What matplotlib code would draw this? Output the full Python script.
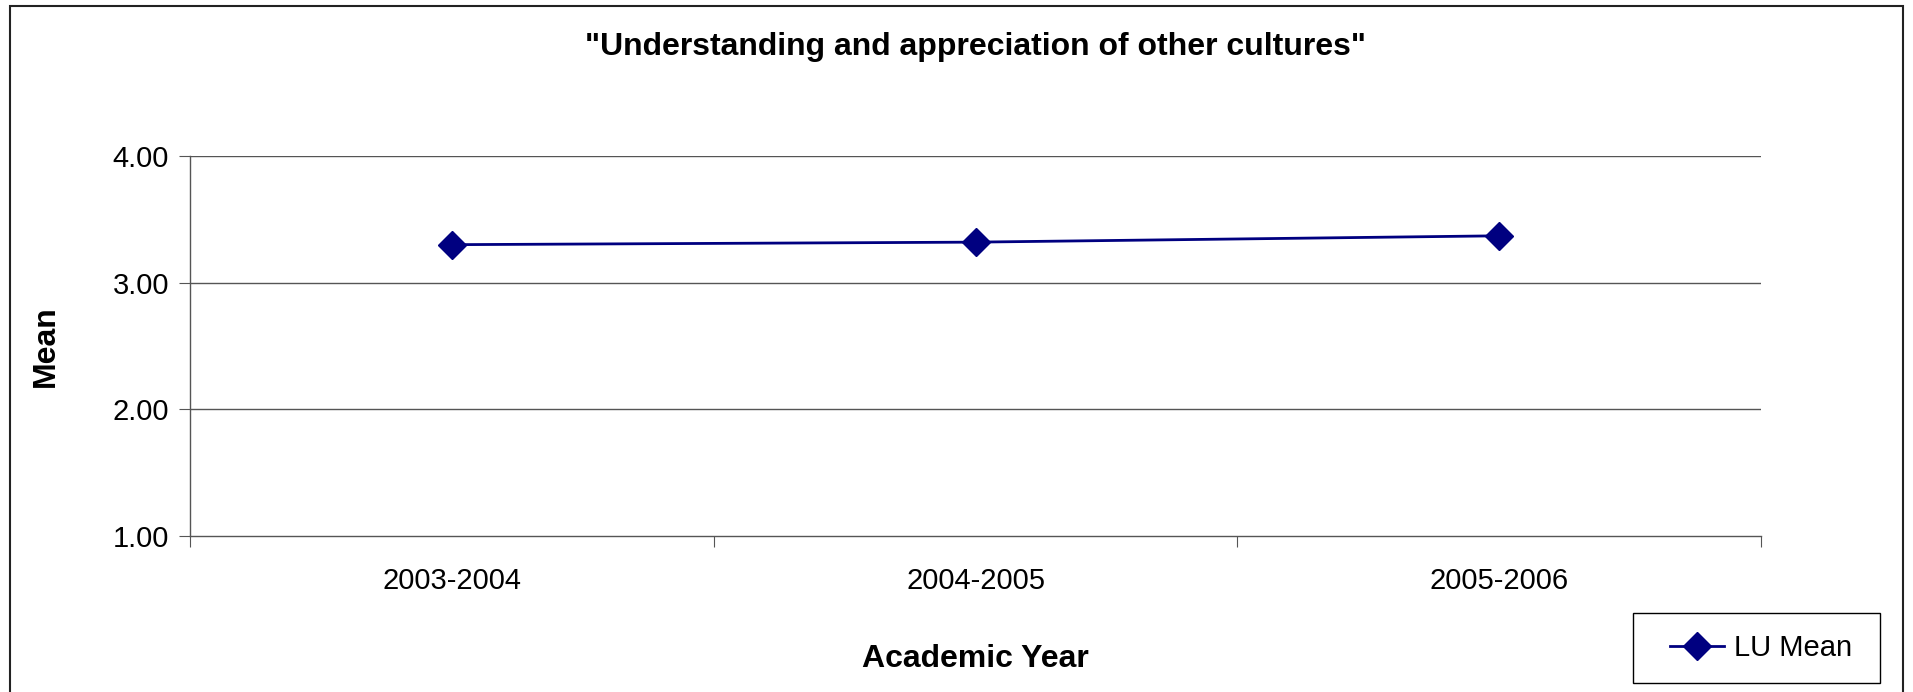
import matplotlib
matplotlib.use("Agg")
import matplotlib.pyplot as plt
from matplotlib.patches import Rectangle

categories = ["2003-2004", "2004-2005", "2005-2006"]
lu_mean = [3.30, 3.32, 3.37]
yticks = [1.0, 2.0, 3.0, 4.0]
title = "\"Understanding and appreciation of other cultures\""

plt.rcParams['font.family'] = ['Liberation Sans', 'DejaVu Sans']

W, H = 1913, 692
fig = plt.figure(figsize=(W/100, H/100), dpi=100)
ax = fig.add_axes([190/W, 1-536/H, (1761-190)/W, (536-156)/H])

x = list(range(len(categories)))
ax.plot(x, lu_mean, color="#000080", lw=2, marker="D", markersize=14,
        markerfacecolor="#000080", markeredgecolor="#000080", label="LU Mean")
ax.set_xlim(-0.5, len(categories)-0.5)
ax.set_ylim(1, 4)
ax.set_yticks(yticks)
ax.set_yticklabels([f"{v:.2f}" for v in yticks], fontsize=21)
ax.set_xticks([i - 0.5 for i in range(len(categories)+1)], minor=False)
ax.set_xticklabels([])
ax.set_xticks(x, minor=True)
ax.set_xticklabels(categories, minor=True, fontsize=21)
ax.tick_params(axis='x', which='minor', length=0, pad=22)
ax.tick_params(axis='x', which='major', length=8, color="#555555", direction='out')
ax.tick_params(axis='y', length=8, color="#555555", direction='out', pad=7)
for v in yticks[1:]:
    ax.axhline(v, color="#555555", lw=1, zorder=0)
for s in ["top", "right"]:
    ax.spines[s].set_visible(False)
for s in ["left", "bottom"]:
    ax.spines[s].set_color("#555555")
    ax.spines[s].set_linewidth(1)

fig.text(0.5 * (190+1761)/W, 1-47/H, title, ha="center", va="center",
         fontsize=23, fontweight="bold")
fig.text(46/W, 1-(156+536)/2/H, "Mean", rotation=90, ha="center", va="center",
         fontsize=23, fontweight="bold")
fig.text(0.5 * (190+1761)/W, 1-659/H, "Academic Year", ha="center", va="center",
         fontsize=23, fontweight="bold")

# legend box
lx0, ly0, lx1, ly1 = 1633, 613, 1880, 683
fig.patches.append(Rectangle((lx0/W, 1-ly1/H), (lx1-lx0)/W, (ly1-ly0)/H,
                             transform=fig.transFigure, fill=False,
                             edgecolor="black", lw=1))
leg = fig.legend(loc="center left", bbox_to_anchor=((lx0+37)/W, 1-(ly0+ly1)/2/H),
                 fontsize=21, frameon=False, handlelength=1.85, handletextpad=0.35,
                 borderaxespad=0, borderpad=0)

fig.patches.append(Rectangle((10/W, -0.1), (1903-10)/W, 1.1 - 6/H, transform=fig.transFigure,
                             fill=False, edgecolor="#222222", lw=1.5))

fig.savefig("out.png", dpi=100)
